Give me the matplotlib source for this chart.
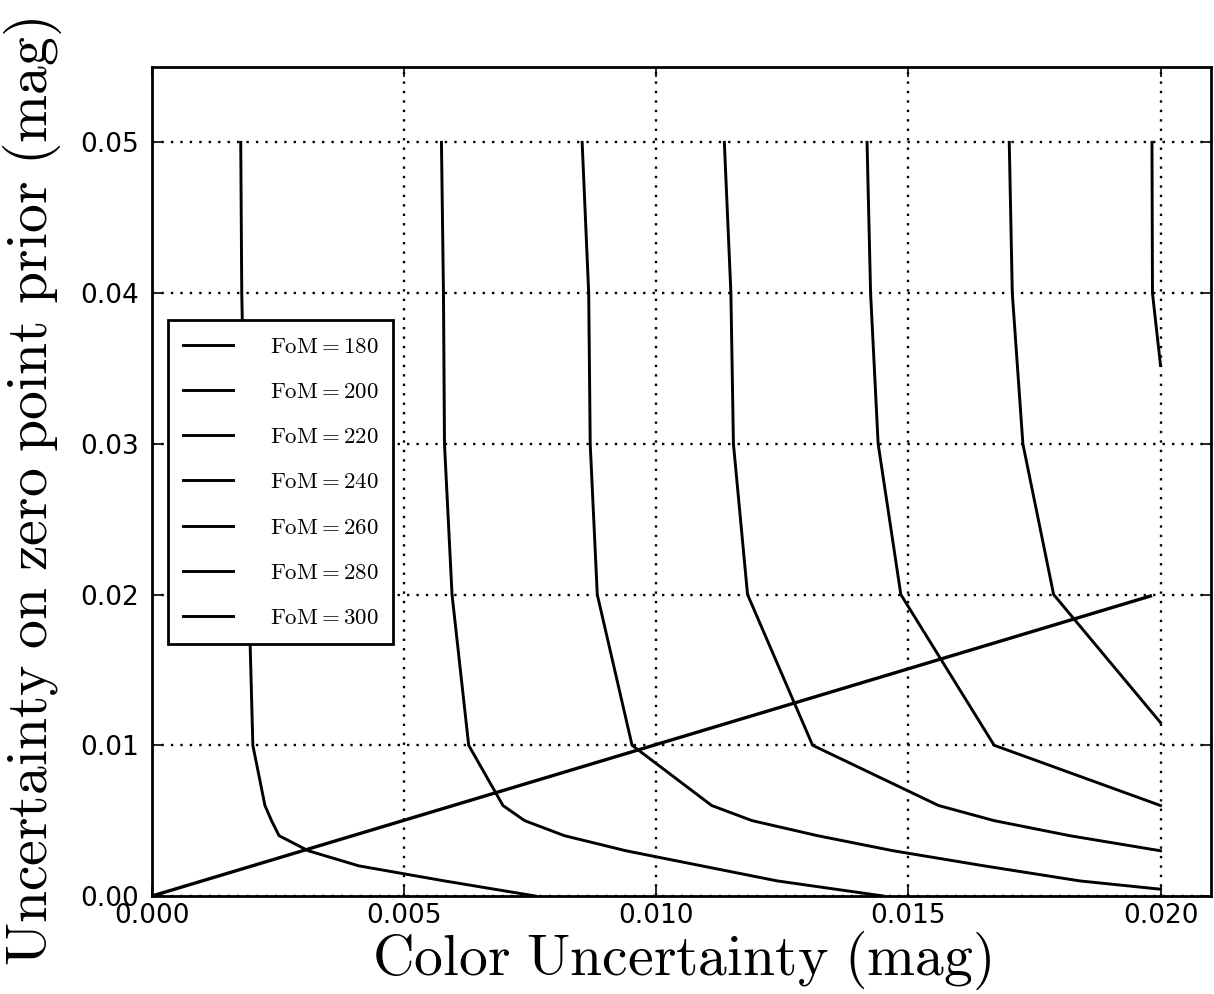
import numpy as np
import matplotlib
matplotlib.use('Agg')
import matplotlib.pyplot as plt

plt.rcParams['mathtext.fontset'] = 'cm'
plt.rcParams['font.family'] = ['DejaVu Sans']

# FoM contours: color uncertainty (x) vs zero point prior (y)
fom_levels = [180, 200, 220, 240, 260, 280, 300]

x_180 = [0.01983, 0.01984, 0.0200]
y_180 = [0.05, 0.04, 0.0352]

x_200 = [0.0170, 0.01706, 0.01727, 0.01788, 0.0200]
y_200 = [0.05, 0.04, 0.03, 0.02, 0.0115]

x_220 = [0.01418, 0.01425, 0.0144, 0.01485, 0.0167, 0.0200]
y_220 = [0.05, 0.04, 0.03, 0.02, 0.01, 0.006]

x_240 = [0.01135, 0.01148, 0.01153, 0.01181, 0.0131, 0.0156, 0.0167, 0.0182, 0.0200]
y_240 = [0.05, 0.04, 0.03, 0.02, 0.01, 0.006, 0.005, 0.004, 0.003]

x_260 = [0.00853, 0.00866, 0.00869, 0.00883, 0.00952, 0.0111, 0.0119, 0.0132,
         0.0147, 0.0165, 0.0184, 0.0200]
y_260 = [0.05, 0.04, 0.03, 0.02, 0.01, 0.006, 0.005, 0.004, 0.003, 0.002, 0.001, 0.00045]

x_280 = [0.00574, 0.00578, 0.0058, 0.00595, 0.00628, 0.00696, 0.00739, 0.00818,
         0.0094, 0.0109, 0.0124, 0.0145]
y_280 = [0.05, 0.04, 0.03, 0.02, 0.01, 0.006, 0.005, 0.004, 0.003, 0.002, 0.001, 0.0]

x_300 = [0.00176, 0.00178, 0.00184, 0.00192, 0.00200, 0.00224, 0.00237, 0.00252,
         0.0031, 0.0041, 0.0058, 0.0076]
y_300 = [0.05, 0.04, 0.03, 0.02, 0.01, 0.006, 0.005, 0.004, 0.003, 0.002, 0.001, 0.0]

# one-to-one reference line
x_diag = [0.0, 0.0198]
y_diag = [0.0, 0.0199]

curves = {180: (x_180, y_180), 200: (x_200, y_200), 220: (x_220, y_220),
          240: (x_240, y_240), 260: (x_260, y_260), 280: (x_280, y_280),
          300: (x_300, y_300)}

fig = plt.figure(figsize=(12.14, 9.94), dpi=100)
ax = fig.add_axes([0.1252, 0.0986, 0.8723, 0.8340])

for fom in fom_levels:
    x, y = curves[fom]
    ax.plot(x, y, color='k', lw=2.1, label=r'$\mathrm{FoM}=%d$' % fom)

ax.plot(x_diag, y_diag, color='k', lw=2.4)

ax.set_xlim(0, 0.021)
ax.set_ylim(0, 0.055)
ax.set_xticks([0.0, 0.005, 0.010, 0.015, 0.020])
ax.set_yticks([0.0, 0.01, 0.02, 0.03, 0.04, 0.05])
ax.xaxis.set_major_formatter(matplotlib.ticker.FormatStrFormatter('%.3f'))
ax.yaxis.set_major_formatter(matplotlib.ticker.FormatStrFormatter('%.2f'))
ax.grid(True, ls=(0, (1, 3)), color='k', lw=1.7)
ax.tick_params(direction='in', top=True, right=True, length=7, width=1.2,
               labelsize=19)
ax.tick_params(axis='x', pad=5)
ax.tick_params(axis='y', pad=9)
for s in ax.spines.values():
    s.set_linewidth(2.0)

ax.set_xlabel(r'$\mathrm{Color\ Uncertainty\ (mag)}$', fontsize=41.5, labelpad=0)
ax.set_ylabel(r'$\mathrm{Uncertainty\ on\ zero\ point\ prior\ (mag)}$', fontsize=41.5)
ax.yaxis.set_label_coords(-0.083, 0.488)

leg = ax.legend(loc='center left', bbox_to_anchor=(0.015, 0.4995), borderaxespad=0,
                fontsize=16.5, handlelength=2.2, handletextpad=1.6, labelspacing=0.97,
                borderpad=0.65, fancybox=False, framealpha=1)
leg.get_frame().set_edgecolor('k')
leg.get_frame().set_linewidth(2.0)

fig.savefig('out.png', dpi=100)
